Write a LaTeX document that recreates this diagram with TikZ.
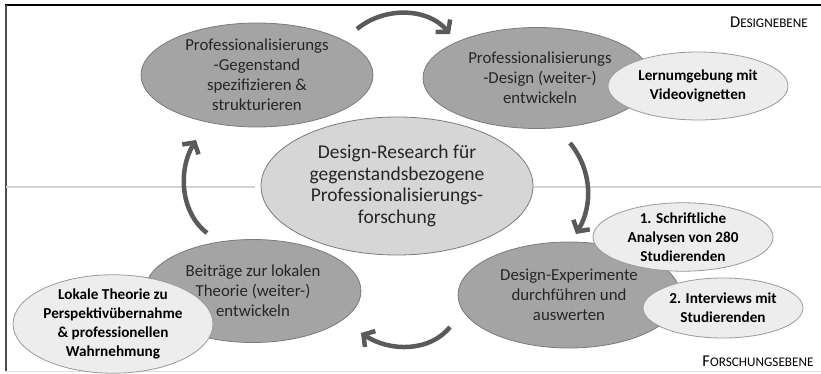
\documentclass[tikz,border=0pt]{standalone}
\usepackage{fontspec}
\setmainfont{Carlito}
\usetikzlibrary{shapes.geometric,arrows.meta}
\definecolor{maingray}{HTML}{A4A4A4}
\definecolor{mainborder}{HTML}{7A7A7A}
\definecolor{centerfill}{HTML}{D6D6D6}
\definecolor{smallfill}{HTML}{EDEDED}
\definecolor{smallborder}{HTML}{9A9A9A}
\definecolor{arrowgray}{HTML}{5A5A5A}
\definecolor{txtdark}{HTML}{262626}
\definecolor{sepgray}{HTML}{D4D4D4}
\tikzset{
  mainell/.style={ellipse, draw=mainborder, line width=0.8pt, fill=maingray, inner sep=0pt,
    align=center, text=txtdark, font=\fontsize{16.8}{20}\selectfont},
  centerell/.style={ellipse, draw=mainborder, line width=0.8pt, fill=centerfill, inner sep=0pt,
    align=center, text=txtdark, font=\fontsize{19.5}{21.7}\selectfont},
  smallell/.style={ellipse, draw=smallborder, line width=0.8pt, fill=smallfill, inner sep=0pt,
    align=center, text=black, font=\bfseries\fontsize{15.2}{18.8}\selectfont},
  cyclearrow/.style={draw=arrowgray, line width=4.5pt,
    -{Straight Barb[length=8pt,width=19pt]}},
  levellabel/.style={text=black, inner sep=0pt}
}
\newcommand{\scapsA}[1]{{\fontsize{16.5}{16}\selectfont #1}}
\newcommand{\scapsB}[1]{{\fontsize{13.2}{13}\selectfont #1}}
\begin{document}
\begin{tikzpicture}[x=1pt,y=-1pt]
\useasboundingbox (0,0) rectangle (821,374);
\fill[white] (0,0) rectangle (821,374);
% frame
\draw[black, line width=1.5pt] (5,5) -- (821,5);
\draw[black!70, line width=1.5pt] (6,5) -- (6,371);
\draw[black!12, line width=1pt] (6,371.5) -- (821,371.5);
% level separator
\draw[sepgray, line width=1.5pt] (6,187) -- (255,187);
\draw[sepgray, line width=1.5pt] (527,187) -- (821,187);

% ellipses
\node[mainell, minimum width=232pt, minimum height=104pt] (A) at (257,75)
  {Professionalisierungs\\-Gegenstand\\spezifizieren \&\\strukturieren};
\node[mainell, minimum width=228pt, minimum height=101pt] (B) at (537,78)
  {\hspace*{6pt}Professionalisierungs\\\hspace*{6pt}-Design (weiter-)\\\hspace*{6pt}entwickeln};
\node[smallell, minimum width=180pt, minimum height=68pt] (B2) at (698,86)
  {Lernumgebung mit\\Videovignetten};
\node[centerell, minimum width=272pt, minimum height=138pt] (C) at (397,186)
  {Design-Research für\\gegenstandsbezogene\\Professionalisierungs-\\forschung};
\node[mainell, minimum width=216pt, minimum height=103pt] (D) at (253,291)
  {Beiträge zur lokalen\\Theorie (weiter-)\\entwickeln};
\node[smallell, minimum width=200pt, minimum height=86pt] (D2) at (113,324)
  {Lokale Theorie zu\\Perspektivübernahme\\\& professionellen\\Wahrnehmung};
\node[mainell, minimum width=222pt, minimum height=106pt] (E) at (569,295)
  {Design-Experimente\\durchführen und\\auswerten};
\node[smallell, minimum width=180pt, minimum height=66pt] (E1) at (683,237)
  {1. Schriftliche\\Analysen von 280\\Studierenden};
\node[smallell, minimum width=160pt, minimum height=60pt] (E2) at (723,308)
  {2. Interviews mit\\Studierenden};

% level labels
\node[levellabel] (L1) at (769,22) {\scapsA{D}\scapsB{ESIGNEBENE}};
\node[levellabel] (L2) at (758,361) {\scapsA{F}\scapsB{ORSCHUNGSEBENE}};

% cycle arrows
\coordinate (t1) at (357,29);
\coordinate (t2) at (450,34);
\coordinate (r1) at (570,143);
\coordinate (r2) at (576,234);
\coordinate (b1) at (450,327);
\coordinate (b2) at (361,333);
\coordinate (l1) at (207,233);
\coordinate (l2) at (196,140);
\draw[cyclearrow] (t1) .. controls (385,6) and (428,8) .. (t2);
\draw[cyclearrow] (r1) .. controls (592,170) and (593,205) .. (r2);
\draw[cyclearrow] (b1) .. controls (430,352) and (390,352) .. (b2);
\draw[cyclearrow] (l1) .. controls (180,212) and (178,170) .. (l2);
\end{tikzpicture}
\end{document}
